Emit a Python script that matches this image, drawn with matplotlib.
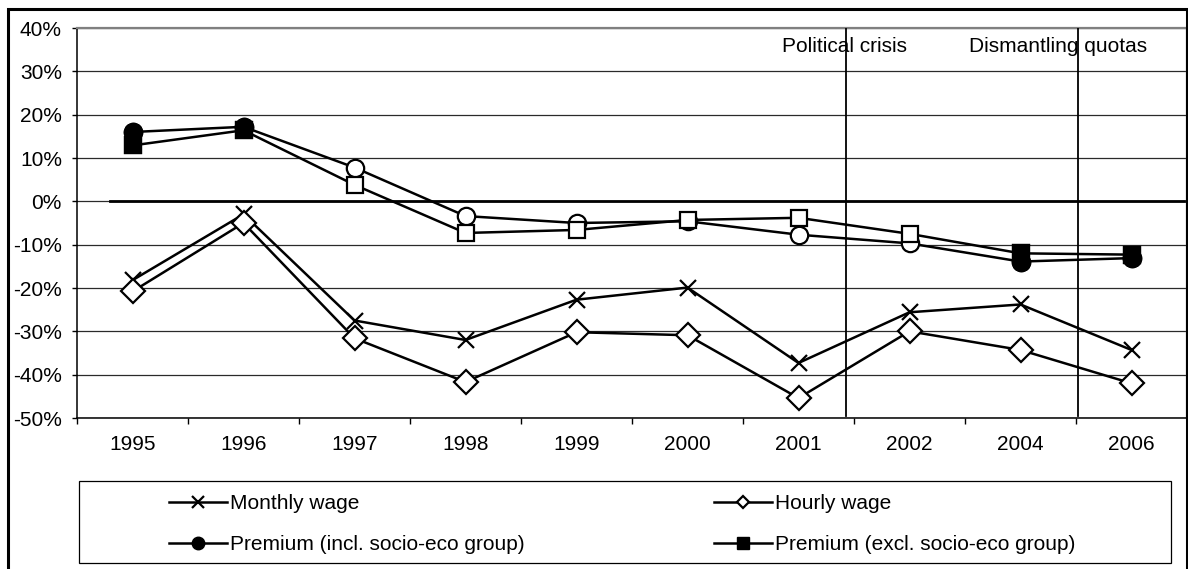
import matplotlib
matplotlib.use("Agg")
import matplotlib.pyplot as plt
from matplotlib.lines import Line2D
from matplotlib.patches import Rectangle
import numpy as np

# Survey years (categories) and series values, in percent
years = ["1995", "1996", "1997", "1998", "1999", "2000", "2001", "2002", "2004", "2006"]
monthly_wage = [-18.2, -3.0, -27.5, -32.0, -22.7, -19.9, -37.3, -25.6, -23.8, -34.3]
hourly_wage = [-20.8, -5.0, -31.6, -41.7, -30.2, -30.9, -45.4, -30.0, -34.3, -42.0]
premium_incl = [16.0, 17.2, 7.8, -3.4, -5.0, -4.6, -7.7, -9.7, -13.9, -13.1]
premium_excl = [12.9, 16.4, 3.8, -7.3, -6.6, -4.3, -3.8, -7.5, -12.0, -12.3]
# Years where the premium estimate is significant (drawn with filled markers)
significant = [True, True, False, False, False, False, False, False, True, True]

y_ticks = list(range(-50, 41, 10))
y_tick_labels = [f"{v}%" for v in y_ticks]

# Event markers placed between survey years
event_names = ["Political crisis", "Dismantling quotas"]
event_x = [6.43, 8.52]
event_text_x = [5.85, 7.54]
event_text_y = 35.8

plt.rcParams["font.family"] = ["Liberation Sans", "DejaVu Sans"]
plt.rcParams["font.size"] = 15

W, H = 1188, 569
fig = plt.figure(figsize=(W / 100, H / 100), dpi=100)

# Outer chart border
fig.patches.append(Rectangle((8 / W, 1 - 580 / H), (1187 - 8) / W, (580 - 9) / H,
                             transform=fig.transFigure, fill=False,
                             edgecolor="black", lw=2.2, clip_on=False))

ax = fig.add_axes([77 / W, 1 - 418 / H, (1187 - 77) / W, (418 - 28) / H])
x = np.arange(len(years))

ax.set_xlim(-0.5, len(years) - 0.5)
ax.set_ylim(y_ticks[0], y_ticks[-1])

# Horizontal gridlines
ax.set_yticks(y_ticks)
ax.set_yticklabels(y_tick_labels)
ax.yaxis.grid(True, color="#2a2a2a", lw=0.9)
ax.set_axisbelow(True)
ax.axhline(0, xmin=33 / 1110, xmax=1, color="black", lw=2.0, zorder=1.5)

# Category axis: labels centred, tick marks between categories
ax.set_xticks(x)
ax.set_xticklabels(years)
ax.set_xticks(np.arange(-0.5, len(years), 1.0), minor=True)
ax.tick_params(axis="x", which="major", length=0, pad=12)
ax.tick_params(axis="x", which="minor", length=4.3, width=1.0, direction="out")
ax.tick_params(axis="y", which="major", length=3.8, width=1.0, direction="out", pad=7)

for side in ("left", "bottom"):
    ax.spines[side].set_color("black")
    ax.spines[side].set_linewidth(1.1)
for side in ("top", "right"):
    ax.spines[side].set_color("#808080")
    ax.spines[side].set_linewidth(1.6)

lw = 1.8
mew = 1.6
ax.plot(x, monthly_wage, color="black", lw=lw, marker="x", ms=11.5, mew=mew, zorder=3)
ax.plot(x, hourly_wage, color="black", lw=lw, marker="D", ms=12,
        mfc="white", mec="black", mew=mew, zorder=3)

sig = np.array(significant)
incl = np.array(premium_incl)
excl = np.array(premium_excl)
ax.plot(x, incl, color="black", lw=lw, marker="o", ms=12.5, mfc="white",
        mec="black", mew=mew, zorder=4)
ax.plot(x[sig], incl[sig], ls="none", marker="o", ms=12.5, mfc="black",
        mec="black", mew=mew, zorder=4)
ax.plot(x, excl, color="black", lw=lw, marker="s", ms=11.2, mfc="white",
        mec="black", mew=mew, zorder=5)
ax.plot(x[sig], excl[sig], ls="none", marker="s", ms=11.2, mfc="black",
        mec="black", mew=mew, zorder=5)

# Event lines and labels
for name, ex, tx in zip(event_names, event_x, event_text_x):
    ax.plot([ex, ex], [y_ticks[-1], -49.5], color="black", lw=1.3, zorder=6)
    ax.text(tx, event_text_y, name, ha="left", va="center", fontsize=15, zorder=7)

# Legend: frame drawn separately, entries placed inside it
fig.patches.append(Rectangle((78.7 / W, 1 - 563 / H), (1170.7 - 78.7) / W, (563 - 481) / H,
                             transform=fig.transFigure, fill=False,
                             edgecolor="black", lw=0.9))
handles = [
    Line2D([], [], color="black", lw=lw, marker="x", ms=9, mew=mew),
    Line2D([], [], color="black", lw=lw, marker="o", ms=9, mfc="black", mec="black"),
    Line2D([], [], color="black", lw=lw, marker="D", ms=6.5, mfc="white", mec="black", mew=mew),
    Line2D([], [], color="black", lw=lw, marker="s", ms=8.5, mfc="black", mec="black"),
]
labels = ["Monthly wage", "Premium (incl. socio-eco group)",
          "Hourly wage", "Premium (excl. socio-eco group)"]
fig.legend(handles, labels, ncol=2, loc="center left",
           bbox_to_anchor=(169 / W, 1 - 524 / H), frameon=False,
           borderpad=0, borderaxespad=0, handlelength=2.78, handletextpad=0.15,
           columnspacing=9.1, labelspacing=1.05, fontsize=15)

fig.savefig("out.png", dpi=100)
